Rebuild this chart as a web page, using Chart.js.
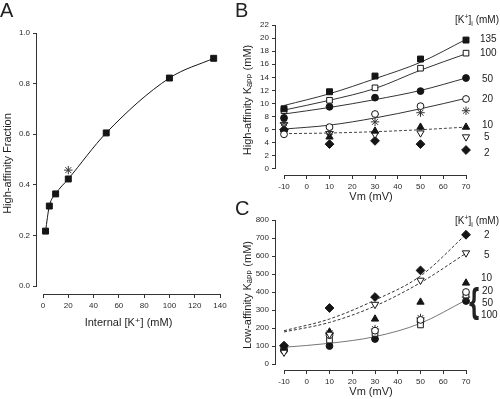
<!DOCTYPE html>
<html><head><meta charset="utf-8">
<script src="https://cdn.jsdelivr.net/npm/chart.js@4"></script>
<style>
html,body{margin:0;padding:0;background:#fff;}
#wrap{position:relative;width:500px;height:399px;overflow:hidden;font-family:'Liberation Sans','DejaVu Sans',sans-serif;color:#222;}
canvas{position:absolute;}
.t{position:absolute;white-space:nowrap;line-height:1;}
.sp{font-size:7px;position:relative;top:-4px;}
.sb{font-size:7px;position:relative;top:3px;}
</style></head><body>
<div id="wrap">
<canvas id="cA" style="left:0;top:0" width="240" height="399"></canvas>
<canvas id="cB" style="left:240px;top:0" width="260" height="210"></canvas>
<canvas id="cC" style="left:240px;top:200px" width="260" height="199"></canvas>
</div>
<script>
// ---------- DATA ----------
// Panel A
const kInternal = [2, 5, 10, 20, 50, 100, 135];
const highAffFraction = [0.217, 0.316, 0.364, 0.423, 0.605, 0.822, 0.900];
const starK = [20];
const starFraction = [0.458];
const aXTicks = [0, 20, 40, 60, 80, 100, 120, 140];
const aYTicks = [0, 0.2, 0.4, 0.6, 0.8, 1.0];

// Panels B and C share the voltage axis
const vm = [-10, 10, 30, 50, 70];
const vmTicks = [-10, 0, 10, 20, 30, 40, 50, 60, 70];

// Panel B: high-affinity Kapp (mM)
const hiK135 = [9.2, 11.8, 14.2, 16.8, 19.7];
const hiK100 = [8.9, 10.5, 12.4, 15.4, 17.7];
const hiK50  = [7.8, 9.5, 10.9, 11.9, 13.9];
const hiK20  = [5.3, 6.4, 8.4, 9.6, 10.7];
const hiKStar = [7.0, 5.7, 7.2, 8.6, 8.9];
const hiK10  = [6.0, 4.9, 5.8, 6.4, 6.4];
const hiK5   = [6.8, 5.4, 5.3, 5.5, 4.9];
const hiK2   = [6.0, 3.8, 4.3, 3.8, 2.9];
const hiFit135 = [9.7, 11.5, 13.8, 16.3, 19.8];
const hiFit100 = [9.0, 10.5, 12.3, 15.1, 17.6];
const hiFit50  = [8.4, 9.4, 10.6, 12.0, 13.9];
const hiFit20  = [6.1, 6.7, 7.8, 9.2, 10.8];
const hiFitLow = [5.4, 5.5, 5.7, 6.0, 6.4];
const bYTicks = [0, 2, 4, 6, 8, 10, 12, 14, 16, 18, 20, 22];
const bLegendLabels = ['135', '100', '50', '20', '10', '5', '2'];

// Panel C: low-affinity Kapp (mM)
const loK2   = [102, 311, 372, 520, 718];
const loK5   = [65, 165, 331, 465, 617];
const loK10  = [85, 178, 250, 344, 450];
const loK20  = [80, 160, 185, 245, 400];
const loK50  = [75, 100, 139, 235, 350];
const loK100 = [90, 133, 170, 217, 383];
const loKStar = [95, 170, 194, 256, 372];
const loFit2 = [185, 250, 355, 489, 720];
const loFit5 = [178, 231, 322, 452, 615];
const loFitHigh = [93, 115, 152, 226, 355];
const cYTicks = [0, 100, 200, 300, 400, 500, 600, 700, 800];
const cLegendLabels = ['2', '5', '10', '20', '50', '100'];

// ---------- STYLES ----------
const INK = '#151515';
const FONT = "'Liberation Sans','DejaVu Sans',sans-serif";
Chart.defaults.font.family = FONT;
Chart.defaults.color = '#2a2a2a';

const mk = {
  fsq:  {pointStyle:'rect', pointRadius:4.2, backgroundColor:INK, borderColor:INK},
  osq:  {pointStyle:'rect', pointRadius:4.0, backgroundColor:'#fff', borderColor:INK},
  fci:  {pointStyle:'circle', pointRadius:3.4, backgroundColor:INK, borderColor:INK},
  oci:  {pointStyle:'circle', pointRadius:3.4, backgroundColor:'#fff', borderColor:INK},
  ftri: {pointStyle:'triangle', pointRadius:4.2, backgroundColor:INK, borderColor:INK},
  otri: {pointStyle:'triangle', pointRotation:180, pointRadius:4.2, backgroundColor:'#fff', borderColor:INK},
  dia:  {pointStyle:'rectRot', pointRadius:4.4, backgroundColor:INK, borderColor:INK},
  star: {pointStyle:'star', pointRadius:4.2, backgroundColor:INK, borderColor:'#333'}
};

function pts(xs, ys) { return xs.map((x, i) => ({x: x, y: ys[i]})); }

function markers(xs, ys, style) {
  return Object.assign({data: pts(xs, ys), showLine:false, borderWidth:1, clip:false, order:1}, style);
}
function fitLine(xs, ys, opts) {
  return Object.assign({data: pts(xs, ys), showLine:true, pointRadius:0, borderWidth:1,
    borderColor:'#333', cubicInterpolationMode:'monotone', clip:false, order:2, fill:false}, opts || {});
}

function scaleX(min, max, ticks, h, title, titlePadBottom) {
  return {
    type:'linear', min:min, max:max,
    afterBuildTicks: s => { s.ticks = ticks.map(v => ({value:v})); },
    afterFit: s => { s.height = h; },
    ticks:{autoSkip:false, maxRotation:0, font:{size:8}, padding:3, color:'#2a2a2a', callback: v => String(v)},
    grid:{display:true, drawOnChartArea:false, drawTicks:true, tickLength:4, color:'#333', lineWidth:1},
    border:{display:false},
    title:{display:true, text:title, font:{size:11}, color:'#1e1e1e', padding:{top:0, bottom:titlePadBottom}}
  };
}
function scaleY(min, max, ticks, w, title, fmt) {
  return {
    type:'linear', min:min, max:max,
    afterBuildTicks: s => { s.ticks = ticks.map(v => ({value:v})); },
    afterFit: s => { s.width = w; },
    ticks:{autoSkip:false, font:{size:8}, padding:3, color:'#2a2a2a', callback: fmt || (v => String(v))},
    grid:{display:true, drawOnChartArea:false, drawTicks:true, tickLength:4, color:'#333', lineWidth:1},
    border:{display:false},
    title:{display:true, text:title, font:{size:11}, color:'#1e1e1e', padding:{top:1, bottom:0}}
  };
}

// axis lines spanning only the tick range (detached axes)
const axisLines = {
  id:'axisLines',
  beforeDatasetsDraw(chart) {
    const {ctx, chartArea, scales} = chart;
    const x = scales.x, y = scales.y;
    const xt = x.ticks, yt = y.ticks;
    ctx.save();
    ctx.strokeStyle = '#333'; ctx.lineWidth = 1;
    ctx.beginPath();
    const by = Math.round(chartArea.bottom) + 0.5;
    ctx.moveTo(x.getPixelForValue(xt[0].value), by);
    ctx.lineTo(x.getPixelForValue(xt[xt.length - 1].value), by);
    const lx = Math.round(chartArea.left) - 0.5;
    ctx.moveTo(lx, y.getPixelForValue(yt[0].value));
    ctx.lineTo(lx, y.getPixelForValue(yt[yt.length - 1].value));
    ctx.stroke();
    ctx.restore();
  }
};

function makeChart(id, datasets, scales, padding) {
  return new Chart(document.getElementById(id), {
    type:'scatter',
    data:{datasets: datasets},
    options:{
      responsive:false, animation:false, events:[],
      layout:{padding: padding},
      plugins:{legend:{display:false}, tooltip:{enabled:false}},
      scales: scales
    },
    plugins:[axisLines]
  });
}

// ---------- PANEL A ----------
makeChart('cA', [
  markers(starK, starFraction, mk.star),
  Object.assign(markers(kInternal, highAffFraction, mk.fsq),
    {showLine:true, borderWidth:1, borderColor:INK, cubicInterpolationMode:'monotone'})
], {
  x: scaleX(-4.746, 140, aXTicks, 40, 'Internal [K\u207A] (mM)', 4),
  y: scaleY(-0.0316, 1.0, aYTicks, 37, 'High-affinity Fraction', v => v.toFixed(1))
}, {left:0, top:33, right:20, bottom:65});

// ---------- PANEL B ----------
makeChart('cB', [
  markers(vm, hiK135, mk.fsq),
  markers(vm, hiK100, mk.osq),
  markers(vm, hiK50, mk.fci),
  markers(vm, hiK20, mk.oci),
  markers(vm, hiKStar, mk.star),
  markers(vm, hiK10, mk.ftri),
  markers(vm, hiK5, mk.otri),
  markers(vm, hiK2, mk.dia),
  fitLine(vm, hiFit135),
  fitLine(vm, hiFit100),
  fitLine(vm, hiFit50),
  fitLine(vm, hiFit20),
  fitLine(vm, hiFitLow, {borderDash:[3,2], borderColor:'#444'})
], {
  x: scaleX(-13.52, 70, vmTicks, 35, 'Vm (mV)', 6),
  y: scaleY(-0.917, 22, bYTicks, 36, 'High-affinity K\u2090\u209A\u209A (mM)')
}, {left:0, top:25, right:34, bottom:0});

// ---------- PANEL C ----------
makeChart('cC', [
  markers(vm, loK2, mk.dia),
  markers(vm, loK5, mk.otri),
  markers(vm, loK10, mk.ftri),
  markers(vm, loK20, mk.oci),
  markers(vm, loK100, mk.osq),
  markers(vm, loKStar, mk.star),
  markers(vm, loK50, mk.fci),
  fitLine(vm, loFit2, {borderDash:[3,2], borderColor:'#333'}),
  fitLine(vm, loFit5, {borderDash:[3,2], borderColor:'#333'}),
  fitLine(vm, loFitHigh, {borderColor:'#777'})
], {
  x: scaleX(-13.52, 70, vmTicks, 29, 'Vm (mV)', 0),
  y: scaleY(-33.3, 800, cYTicks, 36, 'Low-affinity K\u2090\u209A\u209A (mM)')
}, {left:0, top:20, right:34, bottom:0});

// ---------- TEXT (panel letters, legends) ----------
const wrap = document.getElementById('wrap');
function addText(html, left, top, size, extra) {
  const d = document.createElement('div');
  d.className = 't';
  d.style.left = left + 'px'; d.style.top = top + 'px'; d.style.fontSize = size + 'px';
  if (extra) Object.assign(d.style, extra);
  d.innerHTML = html;
  wrap.appendChild(d);
  return d;
}
addText('A', 0, 0, 20);
addText('B', 235, 0, 20);
addText('C', 235, 198, 20);

const kHeader = '[K<span class="sp">+</span>]<span class="sb">i</span> (mM)';
addText(kHeader, 455, 15, 10);
addText(kHeader, 455, 216, 10);

const bLegendY = [34, 48, 74, 94, 120, 132, 148];
const bLegendX = [480, 480, 482, 482, 482, 484, 484];
bLegendLabels.forEach((s, i) => addText(s, bLegendX[i], bLegendY[i], 10));

const cLegendY = [230, 250, 273, 286, 298, 310];
const cLegendX = [484, 484, 481, 482, 482, 481];
cLegendLabels.forEach((s, i) => addText(s, cLegendX[i], cLegendY[i], 10));

addText('{', 467, 284, 36, {fontFamily:"'DejaVu Sans',sans-serif", fontWeight:'bold', transform:'scaleX(0.55)', transformOrigin:'left top'});
</script>
</body></html>
